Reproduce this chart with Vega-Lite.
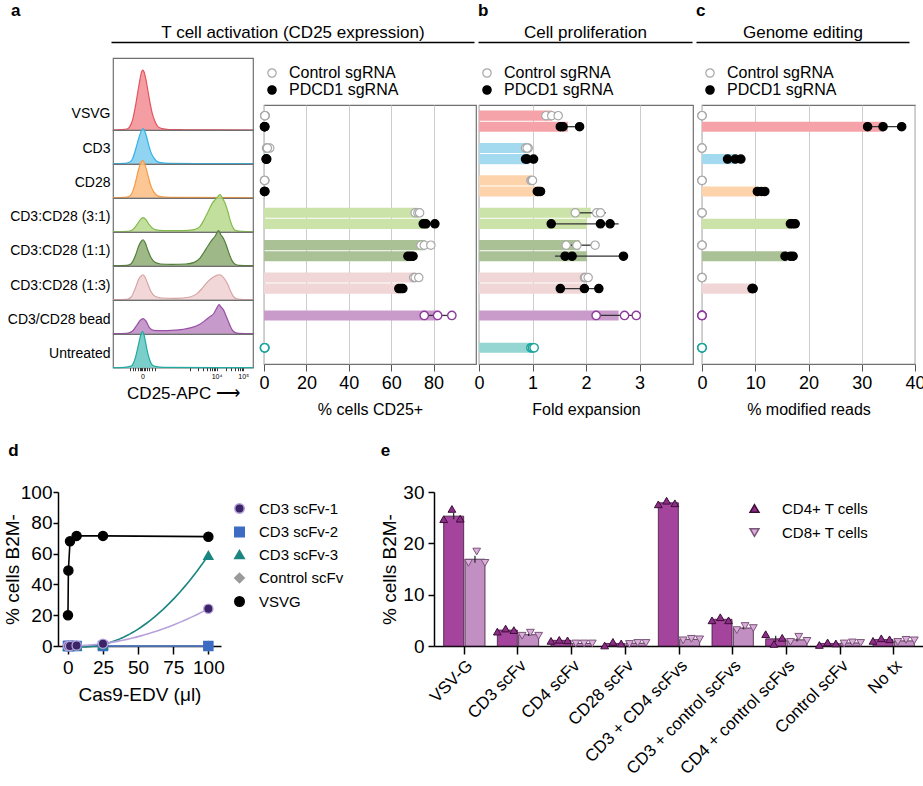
{
"$schema": "https://vega.github.io/schema/vega-lite/v6.json",
"padding": {"left": 3, "top": 2, "right": 2, "bottom": 2},
"config": {
  "font": "Liberation Sans",
  "view": {"stroke": null},
  "axis": {"labelColor": "#000", "titleColor": "#000", "labelFlush": false, "titleFontWeight": "normal", "domainColor": "#000", "tickColor": "#000"},
  "legend": {"labelColor": "#000"},
  "title": {"color": "#000"}
},
"datasets": {
  "hist": [
    {"cat":"VSVG","x":0,"dens":0},{"cat":"VSVG","x":6,"dens":0.01},{"cat":"VSVG","x":10,"dens":0.03},{"cat":"VSVG","x":12,"dens":0.1},{"cat":"VSVG","x":14,"dens":0.3},{"cat":"VSVG","x":16,"dens":0.7},{"cat":"VSVG","x":18,"dens":1.2},{"cat":"VSVG","x":19.5,"dens":1.55},{"cat":"VSVG","x":20.5,"dens":1.74},{"cat":"VSVG","x":21.3,"dens":1.78},{"cat":"VSVG","x":22.2,"dens":1.72},{"cat":"VSVG","x":23.5,"dens":1.5},{"cat":"VSVG","x":25,"dens":1.15},{"cat":"VSVG","x":26.5,"dens":0.8},{"cat":"VSVG","x":28,"dens":0.5},{"cat":"VSVG","x":30,"dens":0.25},{"cat":"VSVG","x":32,"dens":0.1},{"cat":"VSVG","x":35,"dens":0.04},{"cat":"VSVG","x":40,"dens":0.015},{"cat":"VSVG","x":50,"dens":0.008},{"cat":"VSVG","x":70,"dens":0.004},{"cat":"VSVG","x":100,"dens":0},
    {"cat":"CD3","x":0,"dens":0},{"cat":"CD3","x":8,"dens":0.01},{"cat":"CD3","x":12,"dens":0.05},{"cat":"CD3","x":14,"dens":0.15},{"cat":"CD3","x":16,"dens":0.4},{"cat":"CD3","x":18,"dens":0.7},{"cat":"CD3","x":19.5,"dens":0.9},{"cat":"CD3","x":20.5,"dens":1.0},{"cat":"CD3","x":21.5,"dens":1.04},{"cat":"CD3","x":22.5,"dens":0.98},{"cat":"CD3","x":24,"dens":0.8},{"cat":"CD3","x":25.5,"dens":0.55},{"cat":"CD3","x":27,"dens":0.35},{"cat":"CD3","x":29,"dens":0.18},{"cat":"CD3","x":31,"dens":0.08},{"cat":"CD3","x":34,"dens":0.03},{"cat":"CD3","x":40,"dens":0.01},{"cat":"CD3","x":60,"dens":0.005},{"cat":"CD3","x":100,"dens":0},
    {"cat":"CD28","x":0,"dens":0},{"cat":"CD28","x":8,"dens":0.01},{"cat":"CD28","x":12,"dens":0.05},{"cat":"CD28","x":14,"dens":0.18},{"cat":"CD28","x":16,"dens":0.45},{"cat":"CD28","x":18,"dens":0.8},{"cat":"CD28","x":19.5,"dens":1.0},{"cat":"CD28","x":20.5,"dens":1.08},{"cat":"CD28","x":21.5,"dens":1.1},{"cat":"CD28","x":22.5,"dens":1.02},{"cat":"CD28","x":24,"dens":0.82},{"cat":"CD28","x":25.5,"dens":0.58},{"cat":"CD28","x":27,"dens":0.36},{"cat":"CD28","x":29,"dens":0.18},{"cat":"CD28","x":31,"dens":0.08},{"cat":"CD28","x":34,"dens":0.03},{"cat":"CD28","x":40,"dens":0.01},{"cat":"CD28","x":100,"dens":0},
    {"cat":"CD3:CD28 (3:1)","x":0,"dens":0},{"cat":"CD3:CD28 (3:1)","x":10,"dens":0.01},{"cat":"CD3:CD28 (3:1)","x":14,"dens":0.06},{"cat":"CD3:CD28 (3:1)","x":17,"dens":0.2},{"cat":"CD3:CD28 (3:1)","x":19.5,"dens":0.36},{"cat":"CD3:CD28 (3:1)","x":21.5,"dens":0.42},{"cat":"CD3:CD28 (3:1)","x":23.5,"dens":0.36},{"cat":"CD3:CD28 (3:1)","x":26,"dens":0.2},{"cat":"CD3:CD28 (3:1)","x":29,"dens":0.08},{"cat":"CD3:CD28 (3:1)","x":33,"dens":0.04},{"cat":"CD3:CD28 (3:1)","x":40,"dens":0.03},{"cat":"CD3:CD28 (3:1)","x":50,"dens":0.03},{"cat":"CD3:CD28 (3:1)","x":58,"dens":0.06},{"cat":"CD3:CD28 (3:1)","x":62,"dens":0.15},{"cat":"CD3:CD28 (3:1)","x":65,"dens":0.35},{"cat":"CD3:CD28 (3:1)","x":68,"dens":0.6},{"cat":"CD3:CD28 (3:1)","x":71,"dens":0.85},{"cat":"CD3:CD28 (3:1)","x":73,"dens":0.95},{"cat":"CD3:CD28 (3:1)","x":75,"dens":1.05},{"cat":"CD3:CD28 (3:1)","x":76.5,"dens":1.1},{"cat":"CD3:CD28 (3:1)","x":78,"dens":1.0},{"cat":"CD3:CD28 (3:1)","x":80,"dens":0.85},{"cat":"CD3:CD28 (3:1)","x":82,"dens":0.6},{"cat":"CD3:CD28 (3:1)","x":84,"dens":0.3},{"cat":"CD3:CD28 (3:1)","x":86,"dens":0.1},{"cat":"CD3:CD28 (3:1)","x":88,"dens":0.03},{"cat":"CD3:CD28 (3:1)","x":92,"dens":0.01},{"cat":"CD3:CD28 (3:1)","x":100,"dens":0},
    {"cat":"CD3:CD28 (1:1)","x":0,"dens":0},{"cat":"CD3:CD28 (1:1)","x":10,"dens":0.01},{"cat":"CD3:CD28 (1:1)","x":13,"dens":0.06},{"cat":"CD3:CD28 (1:1)","x":16,"dens":0.3},{"cat":"CD3:CD28 (1:1)","x":18.5,"dens":0.6},{"cat":"CD3:CD28 (1:1)","x":20.5,"dens":0.74},{"cat":"CD3:CD28 (1:1)","x":21.5,"dens":0.77},{"cat":"CD3:CD28 (1:1)","x":23,"dens":0.68},{"cat":"CD3:CD28 (1:1)","x":25,"dens":0.45},{"cat":"CD3:CD28 (1:1)","x":27,"dens":0.25},{"cat":"CD3:CD28 (1:1)","x":30,"dens":0.1},{"cat":"CD3:CD28 (1:1)","x":34,"dens":0.05},{"cat":"CD3:CD28 (1:1)","x":42,"dens":0.04},{"cat":"CD3:CD28 (1:1)","x":52,"dens":0.05},{"cat":"CD3:CD28 (1:1)","x":58,"dens":0.1},{"cat":"CD3:CD28 (1:1)","x":62,"dens":0.22},{"cat":"CD3:CD28 (1:1)","x":65,"dens":0.4},{"cat":"CD3:CD28 (1:1)","x":68,"dens":0.6},{"cat":"CD3:CD28 (1:1)","x":71,"dens":0.78},{"cat":"CD3:CD28 (1:1)","x":73,"dens":0.88},{"cat":"CD3:CD28 (1:1)","x":74.5,"dens":1.0},{"cat":"CD3:CD28 (1:1)","x":75.5,"dens":1.04},{"cat":"CD3:CD28 (1:1)","x":77,"dens":0.92},{"cat":"CD3:CD28 (1:1)","x":79,"dens":0.8},{"cat":"CD3:CD28 (1:1)","x":81,"dens":0.6},{"cat":"CD3:CD28 (1:1)","x":83,"dens":0.35},{"cat":"CD3:CD28 (1:1)","x":85,"dens":0.15},{"cat":"CD3:CD28 (1:1)","x":87,"dens":0.05},{"cat":"CD3:CD28 (1:1)","x":90,"dens":0.01},{"cat":"CD3:CD28 (1:1)","x":100,"dens":0},
    {"cat":"CD3:CD28 (1:3)","x":0,"dens":0},{"cat":"CD3:CD28 (1:3)","x":10,"dens":0.01},{"cat":"CD3:CD28 (1:3)","x":13,"dens":0.08},{"cat":"CD3:CD28 (1:3)","x":16,"dens":0.35},{"cat":"CD3:CD28 (1:3)","x":18.5,"dens":0.62},{"cat":"CD3:CD28 (1:3)","x":20.5,"dens":0.72},{"cat":"CD3:CD28 (1:3)","x":21.5,"dens":0.74},{"cat":"CD3:CD28 (1:3)","x":23,"dens":0.66},{"cat":"CD3:CD28 (1:3)","x":25,"dens":0.45},{"cat":"CD3:CD28 (1:3)","x":27,"dens":0.25},{"cat":"CD3:CD28 (1:3)","x":30,"dens":0.1},{"cat":"CD3:CD28 (1:3)","x":35,"dens":0.05},{"cat":"CD3:CD28 (1:3)","x":45,"dens":0.04},{"cat":"CD3:CD28 (1:3)","x":55,"dens":0.08},{"cat":"CD3:CD28 (1:3)","x":60,"dens":0.18},{"cat":"CD3:CD28 (1:3)","x":64,"dens":0.35},{"cat":"CD3:CD28 (1:3)","x":68,"dens":0.55},{"cat":"CD3:CD28 (1:3)","x":71,"dens":0.65},{"cat":"CD3:CD28 (1:3)","x":74,"dens":0.72},{"cat":"CD3:CD28 (1:3)","x":76,"dens":0.74},{"cat":"CD3:CD28 (1:3)","x":78,"dens":0.7},{"cat":"CD3:CD28 (1:3)","x":80,"dens":0.6},{"cat":"CD3:CD28 (1:3)","x":82,"dens":0.45},{"cat":"CD3:CD28 (1:3)","x":84,"dens":0.25},{"cat":"CD3:CD28 (1:3)","x":86,"dens":0.1},{"cat":"CD3:CD28 (1:3)","x":89,"dens":0.02},{"cat":"CD3:CD28 (1:3)","x":100,"dens":0},
    {"cat":"CD3/CD28 bead","x":0,"dens":0},{"cat":"CD3/CD28 bead","x":10,"dens":0.01},{"cat":"CD3/CD28 bead","x":14,"dens":0.08},{"cat":"CD3/CD28 bead","x":17,"dens":0.25},{"cat":"CD3/CD28 bead","x":19.5,"dens":0.4},{"cat":"CD3/CD28 bead","x":21.5,"dens":0.45},{"cat":"CD3/CD28 bead","x":23.5,"dens":0.38},{"cat":"CD3/CD28 bead","x":26,"dens":0.18},{"cat":"CD3/CD28 bead","x":29,"dens":0.1},{"cat":"CD3/CD28 bead","x":35,"dens":0.09},{"cat":"CD3/CD28 bead","x":42,"dens":0.1},{"cat":"CD3/CD28 bead","x":50,"dens":0.13},{"cat":"CD3/CD28 bead","x":56,"dens":0.18},{"cat":"CD3/CD28 bead","x":62,"dens":0.28},{"cat":"CD3/CD28 bead","x":66,"dens":0.4},{"cat":"CD3/CD28 bead","x":69,"dens":0.5},{"cat":"CD3/CD28 bead","x":72,"dens":0.6},{"cat":"CD3/CD28 bead","x":74,"dens":0.75},{"cat":"CD3/CD28 bead","x":75.7,"dens":0.86},{"cat":"CD3/CD28 bead","x":77,"dens":0.8},{"cat":"CD3/CD28 bead","x":79,"dens":0.7},{"cat":"CD3/CD28 bead","x":81,"dens":0.5},{"cat":"CD3/CD28 bead","x":83,"dens":0.3},{"cat":"CD3/CD28 bead","x":85,"dens":0.12},{"cat":"CD3/CD28 bead","x":87,"dens":0.04},{"cat":"CD3/CD28 bead","x":90,"dens":0.01},{"cat":"CD3/CD28 bead","x":100,"dens":0},
    {"cat":"Untreated","x":0,"dens":0},{"cat":"Untreated","x":8,"dens":0.01},{"cat":"Untreated","x":13,"dens":0.05},{"cat":"Untreated","x":16,"dens":0.3},{"cat":"Untreated","x":18,"dens":0.65},{"cat":"Untreated","x":19.5,"dens":0.92},{"cat":"Untreated","x":20.5,"dens":1.05},{"cat":"Untreated","x":21.3,"dens":1.07},{"cat":"Untreated","x":22.3,"dens":0.95},{"cat":"Untreated","x":23.5,"dens":0.7},{"cat":"Untreated","x":25,"dens":0.4},{"cat":"Untreated","x":26.5,"dens":0.2},{"cat":"Untreated","x":28,"dens":0.08},{"cat":"Untreated","x":31,"dens":0.03},{"cat":"Untreated","x":36,"dens":0.01},{"cat":"Untreated","x":100,"dens":0}
  ],
  "bars": [
    {"panel":"a","cat":"VSVG","sg":"Control sgRNA","mean":0.4,"lo":0.3,"hi":0.6},
    {"panel":"a","cat":"VSVG","sg":"PDCD1 sgRNA","mean":0.3,"lo":0.2,"hi":0.4},
    {"panel":"a","cat":"CD3","sg":"Control sgRNA","mean":1.8,"lo":1.2,"hi":2.7},
    {"panel":"a","cat":"CD3","sg":"PDCD1 sgRNA","mean":1.1,"lo":1.0,"hi":1.3},
    {"panel":"a","cat":"CD28","sg":"Control sgRNA","mean":0.3,"lo":0.2,"hi":0.4},
    {"panel":"a","cat":"CD28","sg":"PDCD1 sgRNA","mean":0.3,"lo":0.2,"hi":0.4},
    {"panel":"a","cat":"CD3:CD28 (3:1)","sg":"Control sgRNA","mean":72.5,"lo":71.5,"hi":73.4},
    {"panel":"a","cat":"CD3:CD28 (3:1)","sg":"PDCD1 sgRNA","mean":77.4,"lo":75.3,"hi":80.6},
    {"panel":"a","cat":"CD3:CD28 (1:1)","sg":"Control sgRNA","mean":76.1,"lo":74.0,"hi":78.7},
    {"panel":"a","cat":"CD3:CD28 (1:1)","sg":"PDCD1 sgRNA","mean":69.2,"lo":68.0,"hi":70.3},
    {"panel":"a","cat":"CD3:CD28 (1:3)","sg":"Control sgRNA","mean":71.6,"lo":70.6,"hi":73.0},
    {"panel":"a","cat":"CD3:CD28 (1:3)","sg":"PDCD1 sgRNA","mean":64.6,"lo":63.6,"hi":65.5},
    {"panel":"a","cat":"CD3/CD28 bead","sg":"none","mean":82.0,"lo":75.6,"hi":88.6},
    {"panel":"a","cat":"Untreated","sg":"none","mean":0.3,"lo":0.2,"hi":0.4},
    {"panel":"b","cat":"VSVG","sg":"Control sgRNA","mean":1.36,"lo":1.25,"hi":1.48},
    {"panel":"b","cat":"VSVG","sg":"PDCD1 sgRNA","mean":1.66,"lo":1.52,"hi":1.88},
    {"panel":"b","cat":"CD3","sg":"Control sgRNA","mean":0.9,"lo":0.87,"hi":0.93},
    {"panel":"b","cat":"CD3","sg":"PDCD1 sgRNA","mean":0.93,"lo":0.87,"hi":1.02},
    {"panel":"b","cat":"CD28","sg":"Control sgRNA","mean":0.99,"lo":0.97,"hi":1.0},
    {"panel":"b","cat":"CD28","sg":"PDCD1 sgRNA","mean":1.12,"lo":1.09,"hi":1.15},
    {"panel":"b","cat":"CD3:CD28 (3:1)","sg":"Control sgRNA","mean":2.09,"lo":1.8,"hi":2.37},
    {"panel":"b","cat":"CD3:CD28 (3:1)","sg":"PDCD1 sgRNA","mean":2.02,"lo":1.43,"hi":2.61},
    {"panel":"b","cat":"CD3:CD28 (1:1)","sg":"Control sgRNA","mean":1.88,"lo":1.62,"hi":2.17},
    {"panel":"b","cat":"CD3:CD28 (1:1)","sg":"PDCD1 sgRNA","mean":2.02,"lo":1.42,"hi":2.62},
    {"panel":"b","cat":"CD3:CD28 (1:3)","sg":"Control sgRNA","mean":1.98,"lo":1.97,"hi":2.04},
    {"panel":"b","cat":"CD3:CD28 (1:3)","sg":"PDCD1 sgRNA","mean":1.91,"lo":1.52,"hi":2.24},
    {"panel":"b","cat":"CD3/CD28 bead","sg":"none","mean":2.61,"lo":2.2,"hi":2.95},
    {"panel":"b","cat":"Untreated","sg":"none","mean":0.99,"lo":0.97,"hi":1.03},
    {"panel":"c","cat":"VSVG","sg":"Control sgRNA","mean":0,"lo":0,"hi":0},
    {"panel":"c","cat":"VSVG","sg":"PDCD1 sgRNA","mean":34.0,"lo":31.1,"hi":37.5},
    {"panel":"c","cat":"CD3","sg":"Control sgRNA","mean":0,"lo":0,"hi":0},
    {"panel":"c","cat":"CD3","sg":"PDCD1 sgRNA","mean":5.9,"lo":4.8,"hi":7.3},
    {"panel":"c","cat":"CD28","sg":"Control sgRNA","mean":0,"lo":0,"hi":0},
    {"panel":"c","cat":"CD28","sg":"PDCD1 sgRNA","mean":10.7,"lo":10.4,"hi":11.8},
    {"panel":"c","cat":"CD3:CD28 (3:1)","sg":"Control sgRNA","mean":0,"lo":0,"hi":0},
    {"panel":"c","cat":"CD3:CD28 (3:1)","sg":"PDCD1 sgRNA","mean":16.9,"lo":16.6,"hi":17.5},
    {"panel":"c","cat":"CD3:CD28 (1:1)","sg":"Control sgRNA","mean":0,"lo":0,"hi":0},
    {"panel":"c","cat":"CD3:CD28 (1:1)","sg":"PDCD1 sgRNA","mean":16.0,"lo":15.6,"hi":17.1},
    {"panel":"c","cat":"CD3:CD28 (1:3)","sg":"Control sgRNA","mean":0,"lo":0,"hi":0},
    {"panel":"c","cat":"CD3:CD28 (1:3)","sg":"PDCD1 sgRNA","mean":9.2,"lo":9.4,"hi":9.6},
    {"panel":"c","cat":"CD3/CD28 bead","sg":"none","mean":0,"lo":0,"hi":0},
    {"panel":"c","cat":"Untreated","sg":"none","mean":0,"lo":0,"hi":0}
  ],
  "reps": [
    {"panel":"a","cat":"VSVG","sg":"Control sgRNA","v":0.3},{"panel":"a","cat":"VSVG","sg":"Control sgRNA","v":0.6},{"panel":"a","cat":"VSVG","sg":"Control sgRNA","v":0.4},
    {"panel":"a","cat":"VSVG","sg":"PDCD1 sgRNA","v":0.2},{"panel":"a","cat":"VSVG","sg":"PDCD1 sgRNA","v":0.4},{"panel":"a","cat":"VSVG","sg":"PDCD1 sgRNA","v":0.3},
    {"panel":"a","cat":"CD3","sg":"Control sgRNA","v":1.2},{"panel":"a","cat":"CD3","sg":"Control sgRNA","v":2.7},{"panel":"a","cat":"CD3","sg":"Control sgRNA","v":1.6},
    {"panel":"a","cat":"CD3","sg":"PDCD1 sgRNA","v":1.0},{"panel":"a","cat":"CD3","sg":"PDCD1 sgRNA","v":1.3},{"panel":"a","cat":"CD3","sg":"PDCD1 sgRNA","v":1.1},
    {"panel":"a","cat":"CD28","sg":"Control sgRNA","v":0.2},{"panel":"a","cat":"CD28","sg":"Control sgRNA","v":0.4},{"panel":"a","cat":"CD28","sg":"Control sgRNA","v":0.3},
    {"panel":"a","cat":"CD28","sg":"PDCD1 sgRNA","v":0.2},{"panel":"a","cat":"CD28","sg":"PDCD1 sgRNA","v":0.4},{"panel":"a","cat":"CD28","sg":"PDCD1 sgRNA","v":0.3},
    {"panel":"a","cat":"CD3:CD28 (3:1)","sg":"Control sgRNA","v":71.3},{"panel":"a","cat":"CD3:CD28 (3:1)","sg":"Control sgRNA","v":72.6},{"panel":"a","cat":"CD3:CD28 (3:1)","sg":"Control sgRNA","v":73.4},
    {"panel":"a","cat":"CD3:CD28 (3:1)","sg":"PDCD1 sgRNA","v":75.1},{"panel":"a","cat":"CD3:CD28 (3:1)","sg":"PDCD1 sgRNA","v":76.4},{"panel":"a","cat":"CD3:CD28 (3:1)","sg":"PDCD1 sgRNA","v":80.6},
    {"panel":"a","cat":"CD3:CD28 (1:1)","sg":"Control sgRNA","v":74.0},{"panel":"a","cat":"CD3:CD28 (1:1)","sg":"Control sgRNA","v":75.6},{"panel":"a","cat":"CD3:CD28 (1:1)","sg":"Control sgRNA","v":78.7},
    {"panel":"a","cat":"CD3:CD28 (1:1)","sg":"PDCD1 sgRNA","v":67.9},{"panel":"a","cat":"CD3:CD28 (1:1)","sg":"PDCD1 sgRNA","v":69.3},{"panel":"a","cat":"CD3:CD28 (1:1)","sg":"PDCD1 sgRNA","v":70.3},
    {"panel":"a","cat":"CD3:CD28 (1:3)","sg":"Control sgRNA","v":70.6},{"panel":"a","cat":"CD3:CD28 (1:3)","sg":"Control sgRNA","v":71.3},{"panel":"a","cat":"CD3:CD28 (1:3)","sg":"Control sgRNA","v":73.0},
    {"panel":"a","cat":"CD3:CD28 (1:3)","sg":"PDCD1 sgRNA","v":63.6},{"panel":"a","cat":"CD3:CD28 (1:3)","sg":"PDCD1 sgRNA","v":64.7},{"panel":"a","cat":"CD3:CD28 (1:3)","sg":"PDCD1 sgRNA","v":65.5},
    {"panel":"a","cat":"CD3/CD28 bead","sg":"none","v":75.6},{"panel":"a","cat":"CD3/CD28 bead","sg":"none","v":81.9},{"panel":"a","cat":"CD3/CD28 bead","sg":"none","v":88.6},
    {"panel":"a","cat":"Untreated","sg":"none","v":0.2},{"panel":"a","cat":"Untreated","sg":"none","v":0.4},{"panel":"a","cat":"Untreated","sg":"none","v":0.3},
    {"panel":"b","cat":"VSVG","sg":"Control sgRNA","v":1.25},{"panel":"b","cat":"VSVG","sg":"Control sgRNA","v":1.36},{"panel":"b","cat":"VSVG","sg":"Control sgRNA","v":1.48},
    {"panel":"b","cat":"VSVG","sg":"PDCD1 sgRNA","v":1.52},{"panel":"b","cat":"VSVG","sg":"PDCD1 sgRNA","v":1.57},{"panel":"b","cat":"VSVG","sg":"PDCD1 sgRNA","v":1.88},
    {"panel":"b","cat":"CD3","sg":"Control sgRNA","v":0.87},{"panel":"b","cat":"CD3","sg":"Control sgRNA","v":0.92},{"panel":"b","cat":"CD3","sg":"Control sgRNA","v":0.9},
    {"panel":"b","cat":"CD3","sg":"PDCD1 sgRNA","v":0.87},{"panel":"b","cat":"CD3","sg":"PDCD1 sgRNA","v":0.9},{"panel":"b","cat":"CD3","sg":"PDCD1 sgRNA","v":1.02},
    {"panel":"b","cat":"CD28","sg":"Control sgRNA","v":0.97},{"panel":"b","cat":"CD28","sg":"Control sgRNA","v":0.99},{"panel":"b","cat":"CD28","sg":"Control sgRNA","v":1.0},
    {"panel":"b","cat":"CD28","sg":"PDCD1 sgRNA","v":1.09},{"panel":"b","cat":"CD28","sg":"PDCD1 sgRNA","v":1.12},{"panel":"b","cat":"CD28","sg":"PDCD1 sgRNA","v":1.15},
    {"panel":"b","cat":"CD3:CD28 (3:1)","sg":"Control sgRNA","v":1.8},{"panel":"b","cat":"CD3:CD28 (3:1)","sg":"Control sgRNA","v":2.2},{"panel":"b","cat":"CD3:CD28 (3:1)","sg":"Control sgRNA","v":2.27},
    {"panel":"b","cat":"CD3:CD28 (3:1)","sg":"PDCD1 sgRNA","v":1.35},{"panel":"b","cat":"CD3:CD28 (3:1)","sg":"PDCD1 sgRNA","v":2.27},{"panel":"b","cat":"CD3:CD28 (3:1)","sg":"PDCD1 sgRNA","v":2.45},
    {"panel":"b","cat":"CD3:CD28 (1:1)","sg":"Control sgRNA","v":1.63},{"panel":"b","cat":"CD3:CD28 (1:1)","sg":"Control sgRNA","v":1.83},{"panel":"b","cat":"CD3:CD28 (1:1)","sg":"Control sgRNA","v":2.17},
    {"panel":"b","cat":"CD3:CD28 (1:1)","sg":"PDCD1 sgRNA","v":1.61},{"panel":"b","cat":"CD3:CD28 (1:1)","sg":"PDCD1 sgRNA","v":1.74},{"panel":"b","cat":"CD3:CD28 (1:1)","sg":"PDCD1 sgRNA","v":2.7},
    {"panel":"b","cat":"CD3:CD28 (1:3)","sg":"Control sgRNA","v":1.97},{"panel":"b","cat":"CD3:CD28 (1:3)","sg":"Control sgRNA","v":1.99},{"panel":"b","cat":"CD3:CD28 (1:3)","sg":"Control sgRNA","v":2.04},
    {"panel":"b","cat":"CD3:CD28 (1:3)","sg":"PDCD1 sgRNA","v":1.52},{"panel":"b","cat":"CD3:CD28 (1:3)","sg":"PDCD1 sgRNA","v":1.97},{"panel":"b","cat":"CD3:CD28 (1:3)","sg":"PDCD1 sgRNA","v":2.24},
    {"panel":"b","cat":"CD3/CD28 bead","sg":"none","v":2.19},{"panel":"b","cat":"CD3/CD28 bead","sg":"none","v":2.72},{"panel":"b","cat":"CD3/CD28 bead","sg":"none","v":2.94},
    {"panel":"b","cat":"Untreated","sg":"none","v":0.97},{"panel":"b","cat":"Untreated","sg":"none","v":1.0},{"panel":"b","cat":"Untreated","sg":"none","v":1.03},
    {"panel":"c","cat":"VSVG","sg":"Control sgRNA","v":0},{"panel":"c","cat":"VSVG","sg":"Control sgRNA","v":0},{"panel":"c","cat":"VSVG","sg":"Control sgRNA","v":0},
    {"panel":"c","cat":"VSVG","sg":"PDCD1 sgRNA","v":31.1},{"panel":"c","cat":"VSVG","sg":"PDCD1 sgRNA","v":34.0},{"panel":"c","cat":"VSVG","sg":"PDCD1 sgRNA","v":37.5},
    {"panel":"c","cat":"CD3","sg":"Control sgRNA","v":0},{"panel":"c","cat":"CD3","sg":"Control sgRNA","v":0},{"panel":"c","cat":"CD3","sg":"Control sgRNA","v":0},
    {"panel":"c","cat":"CD3","sg":"PDCD1 sgRNA","v":4.8},{"panel":"c","cat":"CD3","sg":"PDCD1 sgRNA","v":6.25},{"panel":"c","cat":"CD3","sg":"PDCD1 sgRNA","v":7.3},
    {"panel":"c","cat":"CD28","sg":"Control sgRNA","v":0},{"panel":"c","cat":"CD28","sg":"Control sgRNA","v":0},{"panel":"c","cat":"CD28","sg":"Control sgRNA","v":0},
    {"panel":"c","cat":"CD28","sg":"PDCD1 sgRNA","v":10.4},{"panel":"c","cat":"CD28","sg":"PDCD1 sgRNA","v":11.2},{"panel":"c","cat":"CD28","sg":"PDCD1 sgRNA","v":11.8},
    {"panel":"c","cat":"CD3:CD28 (3:1)","sg":"Control sgRNA","v":0},{"panel":"c","cat":"CD3:CD28 (3:1)","sg":"Control sgRNA","v":0},{"panel":"c","cat":"CD3:CD28 (3:1)","sg":"Control sgRNA","v":0},
    {"panel":"c","cat":"CD3:CD28 (3:1)","sg":"PDCD1 sgRNA","v":16.6},{"panel":"c","cat":"CD3:CD28 (3:1)","sg":"PDCD1 sgRNA","v":17.1},{"panel":"c","cat":"CD3:CD28 (3:1)","sg":"PDCD1 sgRNA","v":17.5},
    {"panel":"c","cat":"CD3:CD28 (1:1)","sg":"Control sgRNA","v":0},{"panel":"c","cat":"CD3:CD28 (1:1)","sg":"Control sgRNA","v":0},{"panel":"c","cat":"CD3:CD28 (1:1)","sg":"Control sgRNA","v":0},
    {"panel":"c","cat":"CD3:CD28 (1:1)","sg":"PDCD1 sgRNA","v":15.6},{"panel":"c","cat":"CD3:CD28 (1:1)","sg":"PDCD1 sgRNA","v":16.6},{"panel":"c","cat":"CD3:CD28 (1:1)","sg":"PDCD1 sgRNA","v":17.1},
    {"panel":"c","cat":"CD3:CD28 (1:3)","sg":"Control sgRNA","v":0},{"panel":"c","cat":"CD3:CD28 (1:3)","sg":"Control sgRNA","v":0},{"panel":"c","cat":"CD3:CD28 (1:3)","sg":"Control sgRNA","v":0},
    {"panel":"c","cat":"CD3:CD28 (1:3)","sg":"PDCD1 sgRNA","v":9.4},{"panel":"c","cat":"CD3:CD28 (1:3)","sg":"PDCD1 sgRNA","v":9.5},{"panel":"c","cat":"CD3:CD28 (1:3)","sg":"PDCD1 sgRNA","v":9.6},
    {"panel":"c","cat":"CD3/CD28 bead","sg":"none","v":0},{"panel":"c","cat":"CD3/CD28 bead","sg":"none","v":0},{"panel":"c","cat":"CD3/CD28 bead","sg":"none","v":0},
    {"panel":"c","cat":"Untreated","sg":"none","v":0},{"panel":"c","cat":"Untreated","sg":"none","v":0},{"panel":"c","cat":"Untreated","sg":"none","v":0}
  ],
  "dose": [
    {"series":"Control scFv","x":0.1,"y":0},{"series":"Control scFv","x":0.39,"y":0},{"series":"Control scFv","x":1.56,"y":0},{"series":"Control scFv","x":6.25,"y":0},{"series":"Control scFv","x":25,"y":0},{"series":"Control scFv","x":100,"y":0},
    {"series":"CD3 scFv-2","x":0.1,"y":0},{"series":"CD3 scFv-2","x":0.39,"y":0},{"series":"CD3 scFv-2","x":1.56,"y":0},{"series":"CD3 scFv-2","x":6.25,"y":0},{"series":"CD3 scFv-2","x":25,"y":0},{"series":"CD3 scFv-2","x":100,"y":0},
    {"series":"CD3 scFv-3","x":0.1,"y":0},{"series":"CD3 scFv-3","x":0.39,"y":0},{"series":"CD3 scFv-3","x":1.56,"y":0},{"series":"CD3 scFv-3","x":6.25,"y":0.1},{"series":"CD3 scFv-3","x":25,"y":0.8},{"series":"CD3 scFv-3","x":100,"y":58.9},
    {"series":"CD3 scFv-1","x":0.1,"y":0},{"series":"CD3 scFv-1","x":0.39,"y":0},{"series":"CD3 scFv-1","x":1.56,"y":0},{"series":"CD3 scFv-1","x":6.25,"y":0.3},{"series":"CD3 scFv-1","x":25,"y":1.5},{"series":"CD3 scFv-1","x":100,"y":24.2},
    {"series":"VSVG","x":0.1,"y":20},{"series":"VSVG","x":0.39,"y":49},{"series":"VSVG","x":1.56,"y":68},{"series":"VSVG","x":6.25,"y":71.5},{"series":"VSVG","x":25,"y":71.5},{"series":"VSVG","x":100,"y":71}
  ],
  "ebars": [
    {"grp":"VSV-G","cell":"CD4+ T cells","mean":25.3,"lo":24.7,"hi":25.9},{"grp":"VSV-G","cell":"CD8+ T cells","mean":16.9,"lo":16.2,"hi":17.6},
    {"grp":"CD3 scFv","cell":"CD4+ T cells","mean":3.1,"lo":2.85,"hi":3.35},{"grp":"CD3 scFv","cell":"CD8+ T cells","mean":2.2,"lo":1.95,"hi":2.45},
    {"grp":"CD4 scFv","cell":"CD4+ T cells","mean":1.1,"lo":1.0,"hi":1.2},{"grp":"CD4 scFv","cell":"CD8+ T cells","mean":0.5,"lo":0.45,"hi":0.55},
    {"grp":"CD28 scFv","cell":"CD4+ T cells","mean":0.5,"lo":0.3,"hi":0.7},{"grp":"CD28 scFv","cell":"CD8+ T cells","mean":0.55,"lo":0.45,"hi":0.65},
    {"grp":"CD3 + CD4 scFvs","cell":"CD4+ T cells","mean":27.9,"lo":27.7,"hi":28.1},{"grp":"CD3 + CD4 scFvs","cell":"CD8+ T cells","mean":1.3,"lo":1.2,"hi":1.4},
    {"grp":"CD3 + control scFvs","cell":"CD4+ T cells","mean":5.2,"lo":5.0,"hi":5.4},{"grp":"CD3 + control scFvs","cell":"CD8+ T cells","mean":3.5,"lo":3.25,"hi":3.75},
    {"grp":"CD4 + control scFvs","cell":"CD4+ T cells","mean":1.4,"lo":0.8,"hi":2.0},{"grp":"CD4 + control scFvs","cell":"CD8+ T cells","mean":1.2,"lo":0.9,"hi":1.5},
    {"grp":"Control scFv","cell":"CD4+ T cells","mean":0.5,"lo":0.35,"hi":0.65},{"grp":"Control scFv","cell":"CD8+ T cells","mean":0.6,"lo":0.5,"hi":0.7},
    {"grp":"No tx","cell":"CD4+ T cells","mean":1.25,"lo":1.1,"hi":1.4},{"grp":"No tx","cell":"CD8+ T cells","mean":1.0,"lo":0.9,"hi":1.1}
  ],
  "ereps": [
    {"grp":"VSV-G","cell":"CD4+ T cells","sub":"CD4 1","v":24.7},{"grp":"VSV-G","cell":"CD4+ T cells","sub":"CD4 2","v":26.7},{"grp":"VSV-G","cell":"CD4+ T cells","sub":"CD4 3","v":24.8},
    {"grp":"VSV-G","cell":"CD8+ T cells","sub":"CD8 1","v":16.2},{"grp":"VSV-G","cell":"CD8+ T cells","sub":"CD8 2","v":18.4},{"grp":"VSV-G","cell":"CD8+ T cells","sub":"CD8 3","v":16.2},
    {"grp":"CD3 scFv","cell":"CD4+ T cells","sub":"CD4 1","v":2.8},{"grp":"CD3 scFv","cell":"CD4+ T cells","sub":"CD4 2","v":3.4},{"grp":"CD3 scFv","cell":"CD4+ T cells","sub":"CD4 3","v":3.1},
    {"grp":"CD3 scFv","cell":"CD8+ T cells","sub":"CD8 1","v":2.0},{"grp":"CD3 scFv","cell":"CD8+ T cells","sub":"CD8 2","v":2.6},{"grp":"CD3 scFv","cell":"CD8+ T cells","sub":"CD8 3","v":2.0},
    {"grp":"CD4 scFv","cell":"CD4+ T cells","sub":"CD4 1","v":1.0},{"grp":"CD4 scFv","cell":"CD4+ T cells","sub":"CD4 2","v":1.2},{"grp":"CD4 scFv","cell":"CD4+ T cells","sub":"CD4 3","v":1.1},
    {"grp":"CD4 scFv","cell":"CD8+ T cells","sub":"CD8 1","v":0.5},{"grp":"CD4 scFv","cell":"CD8+ T cells","sub":"CD8 2","v":0.5},{"grp":"CD4 scFv","cell":"CD8+ T cells","sub":"CD8 3","v":0.5},
    {"grp":"CD28 scFv","cell":"CD4+ T cells","sub":"CD4 1","v":0.1},{"grp":"CD28 scFv","cell":"CD4+ T cells","sub":"CD4 2","v":0.8},{"grp":"CD28 scFv","cell":"CD4+ T cells","sub":"CD4 3","v":0.5},
    {"grp":"CD28 scFv","cell":"CD8+ T cells","sub":"CD8 1","v":0.4},{"grp":"CD28 scFv","cell":"CD8+ T cells","sub":"CD8 2","v":0.6},{"grp":"CD28 scFv","cell":"CD8+ T cells","sub":"CD8 3","v":0.6},
    {"grp":"CD3 + CD4 scFvs","cell":"CD4+ T cells","sub":"CD4 1","v":27.6},{"grp":"CD3 + CD4 scFvs","cell":"CD4+ T cells","sub":"CD4 2","v":28.3},{"grp":"CD3 + CD4 scFvs","cell":"CD4+ T cells","sub":"CD4 3","v":27.8},
    {"grp":"CD3 + CD4 scFvs","cell":"CD8+ T cells","sub":"CD8 1","v":1.1},{"grp":"CD3 + CD4 scFvs","cell":"CD8+ T cells","sub":"CD8 2","v":1.4},{"grp":"CD3 + CD4 scFvs","cell":"CD8+ T cells","sub":"CD8 3","v":1.3},
    {"grp":"CD3 + control scFvs","cell":"CD4+ T cells","sub":"CD4 1","v":5.0},{"grp":"CD3 + control scFvs","cell":"CD4+ T cells","sub":"CD4 2","v":5.6},{"grp":"CD3 + control scFvs","cell":"CD4+ T cells","sub":"CD4 3","v":5.0},
    {"grp":"CD3 + control scFvs","cell":"CD8+ T cells","sub":"CD8 1","v":3.1},{"grp":"CD3 + control scFvs","cell":"CD8+ T cells","sub":"CD8 2","v":3.9},{"grp":"CD3 + control scFvs","cell":"CD8+ T cells","sub":"CD8 3","v":3.5},
    {"grp":"CD4 + control scFvs","cell":"CD4+ T cells","sub":"CD4 1","v":2.3},{"grp":"CD4 + control scFvs","cell":"CD4+ T cells","sub":"CD4 2","v":0.4},{"grp":"CD4 + control scFvs","cell":"CD4+ T cells","sub":"CD4 3","v":1.6},
    {"grp":"CD4 + control scFvs","cell":"CD8+ T cells","sub":"CD8 1","v":0.8},{"grp":"CD4 + control scFvs","cell":"CD8+ T cells","sub":"CD8 2","v":1.8},{"grp":"CD4 + control scFvs","cell":"CD8+ T cells","sub":"CD8 3","v":1.0},
    {"grp":"Control scFv","cell":"CD4+ T cells","sub":"CD4 1","v":0.2},{"grp":"Control scFv","cell":"CD4+ T cells","sub":"CD4 2","v":0.7},{"grp":"Control scFv","cell":"CD4+ T cells","sub":"CD4 3","v":0.5},
    {"grp":"Control scFv","cell":"CD8+ T cells","sub":"CD8 1","v":0.5},{"grp":"Control scFv","cell":"CD8+ T cells","sub":"CD8 2","v":0.7},{"grp":"Control scFv","cell":"CD8+ T cells","sub":"CD8 3","v":0.6},
    {"grp":"No tx","cell":"CD4+ T cells","sub":"CD4 1","v":1.0},{"grp":"No tx","cell":"CD4+ T cells","sub":"CD4 2","v":1.5},{"grp":"No tx","cell":"CD4+ T cells","sub":"CD4 3","v":1.3},
    {"grp":"No tx","cell":"CD8+ T cells","sub":"CD8 1","v":0.8},{"grp":"No tx","cell":"CD8+ T cells","sub":"CD8 2","v":1.2},{"grp":"No tx","cell":"CD8+ T cells","sub":"CD8 3","v":1.1}
  ]
},
"vconcat": [
  {
    "vconcat": [
      {
        "hconcat": [
          {
            "width": 49, "height": 1,
            "data": {"values": [{"v": 0}]},
            "mark": {"type": "point", "opacity": 0},
            "encoding": {"x": {"field": "v", "type": "quantitative", "axis": {"orient": "top", "domain": false, "ticks": false, "labels": false, "grid": false, "title": "\u00a0", "titleFontSize": 17, "titlePadding": 1}}},
            "title": {"text": "a", "anchor": "start", "dx": -47, "fontSize": 17, "fontWeight": "bold", "baseline": "alphabetic", "offset": -10}
          },
          {
            "width": 363, "height": 1,
            "data": {"values": [{"v": 0}]},
            "mark": {"type": "point", "opacity": 0},
            "encoding": {"x": {"field": "v", "type": "quantitative", "axis": {"orient": "top", "domain": true, "domainWidth": 1.3, "ticks": false, "labels": false, "grid": false, "title": "T cell activation (CD25 expression)", "titleFontSize": 17, "titlePadding": 1}}}
          },
          {
            "width": 214, "height": 1,
            "data": {"values": [{"v": 0}]},
            "mark": {"type": "point", "opacity": 0},
            "encoding": {"x": {"field": "v", "type": "quantitative", "axis": {"orient": "top", "domain": true, "domainWidth": 1.3, "ticks": false, "labels": false, "grid": false, "title": "Cell proliferation", "titleFontSize": 17, "titlePadding": 1}}},
            "title": {"text": "b", "anchor": "start", "fontSize": 17, "fontWeight": "bold", "baseline": "alphabetic", "offset": -10}
          },
          {
            "width": 213, "height": 1,
            "data": {"values": [{"v": 0}]},
            "mark": {"type": "point", "opacity": 0},
            "encoding": {"x": {"field": "v", "type": "quantitative", "axis": {"orient": "top", "domain": true, "domainWidth": 1.3, "ticks": false, "labels": false, "grid": false, "title": "Genome editing", "titleFontSize": 17, "titlePadding": 1}}},
            "title": {"text": "c", "anchor": "start", "fontSize": 17, "fontWeight": "bold", "baseline": "alphabetic", "offset": -10}
          }
        ],
        "spacing": 4
      },
      {
        "hconcat": [
          {
            "width": 50, "height": 308,
            "data": {"values": [{"cat":"VSVG"},{"cat":"CD3"},{"cat":"CD28"},{"cat":"CD3:CD28 (3:1)"},{"cat":"CD3:CD28 (1:1)"},{"cat":"CD3:CD28 (1:3)"},{"cat":"CD3/CD28 bead"},{"cat":"Untreated"}]},
            "mark": {"type": "text", "text": ""},
            "encoding": {"y": {"field": "cat", "type": "nominal", "scale": {"type": "point", "domain": ["VSVG","CD3","CD28","CD3:CD28 (3:1)","CD3:CD28 (1:1)","CD3:CD28 (1:3)","CD3/CD28 bead","Untreated"], "padding": 1.07, "align": 0.818}, "axis": {"orient": "right", "title": null, "labelAlign": "right", "labelBaseline": "middle", "labelPadding": 2, "ticks": false, "tickSize": 0, "domain": false, "grid": false, "labelFontSize": 14}}}
          },
          {
            "hconcat": [
              {
                "vconcat": [
                  {"width": 140, "height": 72, "view": {"stroke": "#707070", "strokeWidth": 1.2}, "data": {"name": "hist"}, "transform": [{"filter": {"field": "cat", "equal": "VSVG"}}],
                   "mark": {"type": "area", "color": "#f28c92", "fillOpacity": 0.85, "line": {"color": "#e4545d", "strokeWidth": 1.2}, "interpolate": "monotone"},
                   "encoding": {"x": {"field": "x", "type": "quantitative", "scale": {"domain": [0, 100], "nice": false, "zero": false}, "axis": null},
                                "y": {"field": "dens", "type": "quantitative", "scale": {"domain": [0, 2.137], "nice": false}, "axis": null}}},
                  {"width": 140, "height": 33.7, "view": {"stroke": "#707070", "strokeWidth": 1.2}, "data": {"name": "hist"}, "transform": [{"filter": {"field": "cat", "equal": "CD3"}}],
                   "mark": {"type": "area", "color": "#7dcdef", "fillOpacity": 0.85, "line": {"color": "#33b2e5", "strokeWidth": 1.2}, "interpolate": "monotone"},
                   "encoding": {"x": {"field": "x", "type": "quantitative", "scale": {"domain": [0, 100], "nice": false, "zero": false}, "axis": null},
                                "y": {"field": "dens", "type": "quantitative", "scale": {"domain": [0, 1], "nice": false}, "axis": null}}},
                  {"width": 140, "height": 33.7, "view": {"stroke": "#707070", "strokeWidth": 1.2}, "data": {"name": "hist"}, "transform": [{"filter": {"field": "cat", "equal": "CD28"}}],
                   "mark": {"type": "area", "color": "#fbbd82", "fillOpacity": 0.85, "line": {"color": "#f49b45", "strokeWidth": 1.2}, "interpolate": "monotone"},
                   "encoding": {"x": {"field": "x", "type": "quantitative", "scale": {"domain": [0, 100], "nice": false, "zero": false}, "axis": null},
                                "y": {"field": "dens", "type": "quantitative", "scale": {"domain": [0, 1], "nice": false}, "axis": null}}},
                  {"width": 140, "height": 33.7, "view": {"stroke": "#707070", "strokeWidth": 1.2}, "data": {"name": "hist"}, "transform": [{"filter": {"field": "cat", "equal": "CD3:CD28 (3:1)"}}],
                   "mark": {"type": "area", "color": "#b8d98d", "fillOpacity": 0.85, "line": {"color": "#84ba4c", "strokeWidth": 1.2}, "interpolate": "monotone"},
                   "encoding": {"x": {"field": "x", "type": "quantitative", "scale": {"domain": [0, 100], "nice": false, "zero": false}, "axis": null},
                                "y": {"field": "dens", "type": "quantitative", "scale": {"domain": [0, 1], "nice": false}, "axis": null}}},
                  {"width": 140, "height": 33.7, "view": {"stroke": "#707070", "strokeWidth": 1.2}, "data": {"name": "hist"}, "transform": [{"filter": {"field": "cat", "equal": "CD3:CD28 (1:1)"}}],
                   "mark": {"type": "area", "color": "#8dab72", "fillOpacity": 0.85, "line": {"color": "#52803a", "strokeWidth": 1.2}, "interpolate": "monotone"},
                   "encoding": {"x": {"field": "x", "type": "quantitative", "scale": {"domain": [0, 100], "nice": false, "zero": false}, "axis": null},
                                "y": {"field": "dens", "type": "quantitative", "scale": {"domain": [0, 1], "nice": false}, "axis": null}}},
                  {"width": 140, "height": 33.7, "view": {"stroke": "#707070", "strokeWidth": 1.2}, "data": {"name": "hist"}, "transform": [{"filter": {"field": "cat", "equal": "CD3:CD28 (1:3)"}}],
                   "mark": {"type": "area", "color": "#eed0d0", "fillOpacity": 0.85, "line": {"color": "#d6a4a4", "strokeWidth": 1.2}, "interpolate": "monotone"},
                   "encoding": {"x": {"field": "x", "type": "quantitative", "scale": {"domain": [0, 100], "nice": false, "zero": false}, "axis": null},
                                "y": {"field": "dens", "type": "quantitative", "scale": {"domain": [0, 1], "nice": false}, "axis": null}}},
                  {"width": 140, "height": 33.7, "view": {"stroke": "#707070", "strokeWidth": 1.2}, "data": {"name": "hist"}, "transform": [{"filter": {"field": "cat", "equal": "CD3/CD28 bead"}}],
                   "mark": {"type": "area", "color": "#bd88c3", "fillOpacity": 0.85, "line": {"color": "#974fa6", "strokeWidth": 1.2}, "interpolate": "monotone"},
                   "encoding": {"x": {"field": "x", "type": "quantitative", "scale": {"domain": [0, 100], "nice": false, "zero": false}, "axis": null},
                                "y": {"field": "dens", "type": "quantitative", "scale": {"domain": [0, 1], "nice": false}, "axis": null}}},
                  {"width": 140, "height": 33.7, "view": {"stroke": "#707070", "strokeWidth": 1.2}, "data": {"name": "hist"}, "transform": [{"filter": {"field": "cat", "equal": "Untreated"}}],
                   "mark": {"type": "area", "color": "#63c7c1", "fillOpacity": 0.85, "line": {"color": "#22a9a1", "strokeWidth": 1.2}, "interpolate": "monotone"},
                   "encoding": {"x": {"field": "x", "type": "quantitative", "scale": {"domain": [0, 100], "nice": false, "zero": false},
                                      "axis": {"values": [12, 14, 16, 17.5, 19, 20, 21, 22, 23, 24.5, 26, 28, 30, 55, 61, 64.5, 67, 69, 70.5, 71.8, 73, 74, 81, 84.5, 87, 89, 90.5, 91.8, 93], "labelExpr": "datum.value == 21 ? '0' : datum.value == 74 ? '10\u2074' : datum.value == 93 ? '10\u2075' : ''", "labelFontSize": 7, "labelOverlap": false, "tickSize": 3, "tickWidth": 0.8, "domain": false, "grid": false, "labelPadding": 2, "title": "CD25-APC \u27f6", "titleFontSize": 17, "titlePadding": 6}},
                                "y": {"field": "dens", "type": "quantitative", "scale": {"domain": [0, 1], "nice": false}, "axis": null}}}
                ],
                "spacing": 0,
                "bounds": "flush"
              },
              {
                "vconcat": [
                  {"width": 1, "height": 1, "data": {"values": [{"v": 0}]}, "mark": {"type": "text", "text": ""}, "encoding": {}},
                  {
                    "hconcat": [
                      {
                        "hconcat": [
                          {
                            "width": 212, "height": 259,
                            "view": {"stroke": "#707070", "strokeWidth": 1.2},
                            "layer": [
                              {"data": {"name": "bars"}, "transform": [{"filter": "datum.panel === 'a' && datum.sg !== 'none'"}],
                               "mark": {"type": "bar"},
                               "encoding": {
                                 "x": {"field": "mean", "type": "quantitative", "scale": {"domain": [0, 100], "nice": false}, "axis": {"values": [0, 20, 40, 60, 80], "grid": true, "gridColor": "#cccccc", "tickSize": 7, "tickColor": "#555", "domain": false, "labelFontSize": 18, "labelPadding": 3, "title": "% cells CD25+", "titleFontSize": 16, "titlePadding": 9}},
                                 "y": {"field": "cat", "type": "nominal", "scale": {"domain": ["VSVG","CD3","CD28","CD3:CD28 (3:1)","CD3:CD28 (1:1)","CD3:CD28 (1:3)","CD3/CD28 bead","Untreated"], "paddingInner": 0, "paddingOuter": 0}, "axis": null},
                                 "yOffset": {"field": "sg", "type": "nominal", "scale": {"domain": ["Control sgRNA", "PDCD1 sgRNA"], "paddingInner": 0.08, "paddingOuter": 0.51}},
                                 "color": {"field": "cat", "type": "nominal", "scale": {"domain": ["VSVG","CD3","CD28","CD3:CD28 (3:1)","CD3:CD28 (1:1)","CD3:CD28 (1:3)","CD3/CD28 bead","Untreated"], "range": ["#f5a3a8","#a3daf0","#fdd3ab","#cbe3a9","#a9c194","#f0d6d6","#c99bcb","#95d6d2"]}, "legend": null}
                               }},
                              {"data": {"name": "bars"}, "transform": [{"filter": "datum.panel === 'a' && datum.sg === 'none'"}],
                               "mark": {"type": "bar", "height": {"band": 0.31}},
                               "encoding": {
                                 "x": {"field": "mean", "type": "quantitative", "scale": {"domain": [0, 100], "nice": false}, "axis": {"values": [0, 20, 40, 60, 80], "grid": true, "gridColor": "#cccccc", "tickSize": 7, "tickColor": "#555", "domain": false, "labelFontSize": 18, "labelPadding": 3, "title": "% cells CD25+", "titleFontSize": 16, "titlePadding": 9}},
                                 "y": {"field": "cat", "type": "nominal", "scale": {"domain": ["VSVG","CD3","CD28","CD3:CD28 (3:1)","CD3:CD28 (1:1)","CD3:CD28 (1:3)","CD3/CD28 bead","Untreated"], "paddingInner": 0, "paddingOuter": 0}, "axis": null},
                                 "color": {"field": "cat", "type": "nominal", "scale": {"domain": ["VSVG","CD3","CD28","CD3:CD28 (3:1)","CD3:CD28 (1:1)","CD3:CD28 (1:3)","CD3/CD28 bead","Untreated"], "range": ["#f5a3a8","#a3daf0","#fdd3ab","#cbe3a9","#a9c194","#f0d6d6","#c99bcb","#95d6d2"]}, "legend": null}
                               }},
                              {"data": {"name": "bars"}, "transform": [{"filter": "datum.panel === 'a' && datum.sg !== 'none'"}],
                               "mark": {"type": "rule", "color": "#333", "strokeWidth": 1.3},
                               "encoding": {
                                 "x": {"field": "lo", "type": "quantitative", "scale": {"domain": [0, 100], "nice": false}, "axis": {"values": [0, 20, 40, 60, 80], "grid": true, "gridColor": "#cccccc", "tickSize": 7, "tickColor": "#555", "domain": false, "labelFontSize": 18, "labelPadding": 3, "title": "% cells CD25+", "titleFontSize": 16, "titlePadding": 9}}, "x2": {"field": "hi"},
                                 "y": {"field": "cat", "type": "nominal", "scale": {"domain": ["VSVG","CD3","CD28","CD3:CD28 (3:1)","CD3:CD28 (1:1)","CD3:CD28 (1:3)","CD3/CD28 bead","Untreated"], "paddingInner": 0, "paddingOuter": 0}, "axis": null},
                                 "yOffset": {"field": "sg", "type": "nominal", "scale": {"domain": ["Control sgRNA", "PDCD1 sgRNA"], "paddingInner": 0.08, "paddingOuter": 0.51}}
                               }},
                              {"data": {"name": "bars"}, "transform": [{"filter": "datum.panel === 'a' && datum.sg === 'none'"}],
                               "mark": {"type": "rule", "color": "#333", "strokeWidth": 1.3},
                               "encoding": {
                                 "x": {"field": "lo", "type": "quantitative", "scale": {"domain": [0, 100], "nice": false}, "axis": {"values": [0, 20, 40, 60, 80], "grid": true, "gridColor": "#cccccc", "tickSize": 7, "tickColor": "#555", "domain": false, "labelFontSize": 18, "labelPadding": 3, "title": "% cells CD25+", "titleFontSize": 16, "titlePadding": 9}}, "x2": {"field": "hi"},
                                 "y": {"field": "cat", "type": "nominal", "scale": {"domain": ["VSVG","CD3","CD28","CD3:CD28 (3:1)","CD3:CD28 (1:1)","CD3:CD28 (1:3)","CD3/CD28 bead","Untreated"], "paddingInner": 0, "paddingOuter": 0}, "axis": null}
                               }},
                              {"data": {"name": "reps"}, "transform": [{"filter": "datum.panel === 'a' && datum.sg !== 'none'"}],
                               "mark": {"type": "point", "filled": true, "size": 70, "strokeWidth": 1.2, "opacity": 1},
                               "encoding": {
                                 "x": {"field": "v", "type": "quantitative", "scale": {"domain": [0, 100], "nice": false}, "axis": {"values": [0, 20, 40, 60, 80], "grid": true, "gridColor": "#cccccc", "tickSize": 7, "tickColor": "#555", "domain": false, "labelFontSize": 18, "labelPadding": 3, "title": "% cells CD25+", "titleFontSize": 16, "titlePadding": 9}},
                                 "y": {"field": "cat", "type": "nominal", "scale": {"domain": ["VSVG","CD3","CD28","CD3:CD28 (3:1)","CD3:CD28 (1:1)","CD3:CD28 (1:3)","CD3/CD28 bead","Untreated"], "paddingInner": 0, "paddingOuter": 0}, "axis": null},
                                 "yOffset": {"field": "sg", "type": "nominal", "scale": {"domain": ["Control sgRNA", "PDCD1 sgRNA"], "paddingInner": 0.08, "paddingOuter": 0.51}},
                                 "fill": {"field": "sg", "type": "nominal", "scale": {"domain": ["Control sgRNA", "PDCD1 sgRNA"], "range": ["#ffffff", "#000000"]}, "legend": {"title": null, "orient": "top", "direction": "vertical", "padding": 0, "offset": 7, "labelFontSize": 16, "symbolSize": 70, "symbolStrokeWidth": 1.2, "rowPadding": 1, "labelOffset": 9}},
                                 "stroke": {"field": "sg", "type": "nominal", "scale": {"domain": ["Control sgRNA", "PDCD1 sgRNA"], "range": ["#a8a8a8", "#000000"]}, "legend": {"title": null, "orient": "top", "direction": "vertical", "padding": 0, "offset": 7, "labelFontSize": 16, "symbolSize": 70, "symbolStrokeWidth": 1.2, "rowPadding": 1, "labelOffset": 9}}
                               }},
                              {"data": {"name": "reps"}, "transform": [{"filter": "datum.panel === 'a' && datum.sg === 'none'"}],
                               "mark": {"type": "point", "filled": true, "size": 70, "strokeWidth": 1.4, "opacity": 1, "fill": "#ffffff"},
                               "encoding": {
                                 "x": {"field": "v", "type": "quantitative", "scale": {"domain": [0, 100], "nice": false}, "axis": {"values": [0, 20, 40, 60, 80], "grid": true, "gridColor": "#cccccc", "tickSize": 7, "tickColor": "#555", "domain": false, "labelFontSize": 18, "labelPadding": 3, "title": "% cells CD25+", "titleFontSize": 16, "titlePadding": 9}},
                                 "y": {"field": "cat", "type": "nominal", "scale": {"domain": ["VSVG","CD3","CD28","CD3:CD28 (3:1)","CD3:CD28 (1:1)","CD3:CD28 (1:3)","CD3/CD28 bead","Untreated"], "paddingInner": 0, "paddingOuter": 0}, "axis": null},
                                 "stroke": {"condition": {"test": "datum.cat === 'Untreated'", "value": "#1aa39c"}, "value": "#8e3b9d"}
                               }}
                            ]
                          },
                          {
                            "width": 214, "height": 259,
                            "view": {"stroke": "#707070", "strokeWidth": 1.2},
                            "layer": [
                              {"data": {"name": "bars"}, "transform": [{"filter": "datum.panel === 'b' && datum.sg !== 'none'"}],
                               "mark": {"type": "bar"},
                               "encoding": {
                                 "x": {"field": "mean", "type": "quantitative", "scale": {"domain": [0, 4], "nice": false}, "axis": {"values": [0, 1, 2, 3], "format": "d", "grid": true, "gridColor": "#cccccc", "tickSize": 7, "tickColor": "#555", "domain": false, "labelFontSize": 18, "labelPadding": 3, "title": "Fold expansion", "titleFontSize": 16, "titlePadding": 9}},
                                 "y": {"field": "cat", "type": "nominal", "scale": {"domain": ["VSVG","CD3","CD28","CD3:CD28 (3:1)","CD3:CD28 (1:1)","CD3:CD28 (1:3)","CD3/CD28 bead","Untreated"], "paddingInner": 0, "paddingOuter": 0}, "axis": null},
                                 "yOffset": {"field": "sg", "type": "nominal", "scale": {"domain": ["Control sgRNA", "PDCD1 sgRNA"], "paddingInner": 0.08, "paddingOuter": 0.51}},
                                 "color": {"field": "cat", "type": "nominal", "scale": {"domain": ["VSVG","CD3","CD28","CD3:CD28 (3:1)","CD3:CD28 (1:1)","CD3:CD28 (1:3)","CD3/CD28 bead","Untreated"], "range": ["#f5a3a8","#a3daf0","#fdd3ab","#cbe3a9","#a9c194","#f0d6d6","#c99bcb","#95d6d2"]}, "legend": null}
                               }},
                              {"data": {"name": "bars"}, "transform": [{"filter": "datum.panel === 'b' && datum.sg === 'none'"}],
                               "mark": {"type": "bar", "height": {"band": 0.31}},
                               "encoding": {
                                 "x": {"field": "mean", "type": "quantitative", "scale": {"domain": [0, 4], "nice": false}, "axis": {"values": [0, 1, 2, 3], "format": "d", "grid": true, "gridColor": "#cccccc", "tickSize": 7, "tickColor": "#555", "domain": false, "labelFontSize": 18, "labelPadding": 3, "title": "Fold expansion", "titleFontSize": 16, "titlePadding": 9}},
                                 "y": {"field": "cat", "type": "nominal", "scale": {"domain": ["VSVG","CD3","CD28","CD3:CD28 (3:1)","CD3:CD28 (1:1)","CD3:CD28 (1:3)","CD3/CD28 bead","Untreated"], "paddingInner": 0, "paddingOuter": 0}, "axis": null},
                                 "color": {"field": "cat", "type": "nominal", "scale": {"domain": ["VSVG","CD3","CD28","CD3:CD28 (3:1)","CD3:CD28 (1:1)","CD3:CD28 (1:3)","CD3/CD28 bead","Untreated"], "range": ["#f5a3a8","#a3daf0","#fdd3ab","#cbe3a9","#a9c194","#f0d6d6","#c99bcb","#95d6d2"]}, "legend": null}
                               }},
                              {"data": {"name": "bars"}, "transform": [{"filter": "datum.panel === 'b' && datum.sg !== 'none'"}],
                               "mark": {"type": "rule", "color": "#333", "strokeWidth": 1.3},
                               "encoding": {
                                 "x": {"field": "lo", "type": "quantitative", "scale": {"domain": [0, 4], "nice": false}, "axis": {"values": [0, 1, 2, 3], "format": "d", "grid": true, "gridColor": "#cccccc", "tickSize": 7, "tickColor": "#555", "domain": false, "labelFontSize": 18, "labelPadding": 3, "title": "Fold expansion", "titleFontSize": 16, "titlePadding": 9}}, "x2": {"field": "hi"},
                                 "y": {"field": "cat", "type": "nominal", "scale": {"domain": ["VSVG","CD3","CD28","CD3:CD28 (3:1)","CD3:CD28 (1:1)","CD3:CD28 (1:3)","CD3/CD28 bead","Untreated"], "paddingInner": 0, "paddingOuter": 0}, "axis": null},
                                 "yOffset": {"field": "sg", "type": "nominal", "scale": {"domain": ["Control sgRNA", "PDCD1 sgRNA"], "paddingInner": 0.08, "paddingOuter": 0.51}}
                               }},
                              {"data": {"name": "bars"}, "transform": [{"filter": "datum.panel === 'b' && datum.sg === 'none'"}],
                               "mark": {"type": "rule", "color": "#333", "strokeWidth": 1.3},
                               "encoding": {
                                 "x": {"field": "lo", "type": "quantitative", "scale": {"domain": [0, 4], "nice": false}, "axis": {"values": [0, 1, 2, 3], "format": "d", "grid": true, "gridColor": "#cccccc", "tickSize": 7, "tickColor": "#555", "domain": false, "labelFontSize": 18, "labelPadding": 3, "title": "Fold expansion", "titleFontSize": 16, "titlePadding": 9}}, "x2": {"field": "hi"},
                                 "y": {"field": "cat", "type": "nominal", "scale": {"domain": ["VSVG","CD3","CD28","CD3:CD28 (3:1)","CD3:CD28 (1:1)","CD3:CD28 (1:3)","CD3/CD28 bead","Untreated"], "paddingInner": 0, "paddingOuter": 0}, "axis": null}
                               }},
                              {"data": {"name": "reps"}, "transform": [{"filter": "datum.panel === 'b' && datum.sg !== 'none'"}],
                               "mark": {"type": "point", "filled": true, "size": 70, "strokeWidth": 1.2, "opacity": 1},
                               "encoding": {
                                 "x": {"field": "v", "type": "quantitative", "scale": {"domain": [0, 4], "nice": false}, "axis": {"values": [0, 1, 2, 3], "format": "d", "grid": true, "gridColor": "#cccccc", "tickSize": 7, "tickColor": "#555", "domain": false, "labelFontSize": 18, "labelPadding": 3, "title": "Fold expansion", "titleFontSize": 16, "titlePadding": 9}},
                                 "y": {"field": "cat", "type": "nominal", "scale": {"domain": ["VSVG","CD3","CD28","CD3:CD28 (3:1)","CD3:CD28 (1:1)","CD3:CD28 (1:3)","CD3/CD28 bead","Untreated"], "paddingInner": 0, "paddingOuter": 0}, "axis": null},
                                 "yOffset": {"field": "sg", "type": "nominal", "scale": {"domain": ["Control sgRNA", "PDCD1 sgRNA"], "paddingInner": 0.08, "paddingOuter": 0.51}},
                                 "fill": {"field": "sg", "type": "nominal", "scale": {"domain": ["Control sgRNA", "PDCD1 sgRNA"], "range": ["#ffffff", "#000000"]}, "legend": {"title": null, "orient": "top", "direction": "vertical", "padding": 0, "offset": 7, "labelFontSize": 16, "symbolSize": 70, "symbolStrokeWidth": 1.2, "rowPadding": 1, "labelOffset": 9}},
                                 "stroke": {"field": "sg", "type": "nominal", "scale": {"domain": ["Control sgRNA", "PDCD1 sgRNA"], "range": ["#a8a8a8", "#000000"]}, "legend": {"title": null, "orient": "top", "direction": "vertical", "padding": 0, "offset": 7, "labelFontSize": 16, "symbolSize": 70, "symbolStrokeWidth": 1.2, "rowPadding": 1, "labelOffset": 9}}
                               }},
                              {"data": {"name": "reps"}, "transform": [{"filter": "datum.panel === 'b' && datum.sg === 'none'"}],
                               "mark": {"type": "point", "filled": true, "size": 70, "strokeWidth": 1.4, "opacity": 1, "fill": "#ffffff"},
                               "encoding": {
                                 "x": {"field": "v", "type": "quantitative", "scale": {"domain": [0, 4], "nice": false}, "axis": {"values": [0, 1, 2, 3], "format": "d", "grid": true, "gridColor": "#cccccc", "tickSize": 7, "tickColor": "#555", "domain": false, "labelFontSize": 18, "labelPadding": 3, "title": "Fold expansion", "titleFontSize": 16, "titlePadding": 9}},
                                 "y": {"field": "cat", "type": "nominal", "scale": {"domain": ["VSVG","CD3","CD28","CD3:CD28 (3:1)","CD3:CD28 (1:1)","CD3:CD28 (1:3)","CD3/CD28 bead","Untreated"], "paddingInner": 0, "paddingOuter": 0}, "axis": null},
                                 "stroke": {"condition": {"test": "datum.cat === 'Untreated'", "value": "#1aa39c"}, "value": "#8e3b9d"}
                               }}
                            ]
                          }
                        ],
                        "spacing": -4,
                        "resolve": {"scale": {"color": "independent", "fill": "independent", "stroke": "independent", "shape": "independent"}, "legend": {"color": "independent", "fill": "independent", "stroke": "independent", "shape": "independent"}}
                      },
                      {
                        "width": 213, "height": 259,
                        "view": {"stroke": "#707070", "strokeWidth": 1.2},
                        "layer": [
                          {"data": {"name": "bars"}, "transform": [{"filter": "datum.panel === 'c' && datum.sg !== 'none'"}],
                           "mark": {"type": "bar"},
                           "encoding": {
                             "x": {"field": "mean", "type": "quantitative", "scale": {"domain": [0, 40], "nice": false}, "axis": {"values": [0, 10, 20, 30, 40], "grid": true, "gridColor": "#cccccc", "tickSize": 7, "tickColor": "#555", "domain": false, "labelFontSize": 18, "labelPadding": 3, "title": "% modified reads", "titleFontSize": 16, "titlePadding": 9}},
                             "y": {"field": "cat", "type": "nominal", "scale": {"domain": ["VSVG","CD3","CD28","CD3:CD28 (3:1)","CD3:CD28 (1:1)","CD3:CD28 (1:3)","CD3/CD28 bead","Untreated"], "paddingInner": 0, "paddingOuter": 0}, "axis": null},
                             "yOffset": {"field": "sg", "type": "nominal", "scale": {"domain": ["Control sgRNA", "PDCD1 sgRNA"], "paddingInner": 0.08, "paddingOuter": 0.51}},
                             "color": {"field": "cat", "type": "nominal", "scale": {"domain": ["VSVG","CD3","CD28","CD3:CD28 (3:1)","CD3:CD28 (1:1)","CD3:CD28 (1:3)","CD3/CD28 bead","Untreated"], "range": ["#f5a3a8","#a3daf0","#fdd3ab","#cbe3a9","#a9c194","#f0d6d6","#c99bcb","#95d6d2"]}, "legend": null}
                           }},
                          {"data": {"name": "bars"}, "transform": [{"filter": "datum.panel === 'c' && datum.sg !== 'none'"}],
                           "mark": {"type": "rule", "color": "#333", "strokeWidth": 1.3},
                           "encoding": {
                             "x": {"field": "lo", "type": "quantitative", "scale": {"domain": [0, 40], "nice": false}, "axis": {"values": [0, 10, 20, 30, 40], "grid": true, "gridColor": "#cccccc", "tickSize": 7, "tickColor": "#555", "domain": false, "labelFontSize": 18, "labelPadding": 3, "title": "% modified reads", "titleFontSize": 16, "titlePadding": 9}}, "x2": {"field": "hi"},
                             "y": {"field": "cat", "type": "nominal", "scale": {"domain": ["VSVG","CD3","CD28","CD3:CD28 (3:1)","CD3:CD28 (1:1)","CD3:CD28 (1:3)","CD3/CD28 bead","Untreated"], "paddingInner": 0, "paddingOuter": 0}, "axis": null},
                             "yOffset": {"field": "sg", "type": "nominal", "scale": {"domain": ["Control sgRNA", "PDCD1 sgRNA"], "paddingInner": 0.08, "paddingOuter": 0.51}}
                           }},
                          {"data": {"name": "reps"}, "transform": [{"filter": "datum.panel === 'c' && datum.sg !== 'none'"}],
                           "mark": {"type": "point", "filled": true, "size": 70, "strokeWidth": 1.2, "opacity": 1},
                           "encoding": {
                             "x": {"field": "v", "type": "quantitative", "scale": {"domain": [0, 40], "nice": false}, "axis": {"values": [0, 10, 20, 30, 40], "grid": true, "gridColor": "#cccccc", "tickSize": 7, "tickColor": "#555", "domain": false, "labelFontSize": 18, "labelPadding": 3, "title": "% modified reads", "titleFontSize": 16, "titlePadding": 9}},
                             "y": {"field": "cat", "type": "nominal", "scale": {"domain": ["VSVG","CD3","CD28","CD3:CD28 (3:1)","CD3:CD28 (1:1)","CD3:CD28 (1:3)","CD3/CD28 bead","Untreated"], "paddingInner": 0, "paddingOuter": 0}, "axis": null},
                             "yOffset": {"field": "sg", "type": "nominal", "scale": {"domain": ["Control sgRNA", "PDCD1 sgRNA"], "paddingInner": 0.08, "paddingOuter": 0.51}},
                             "fill": {"field": "sg", "type": "nominal", "scale": {"domain": ["Control sgRNA", "PDCD1 sgRNA"], "range": ["#ffffff", "#000000"]}, "legend": {"title": null, "orient": "top", "direction": "vertical", "padding": 0, "offset": 7, "labelFontSize": 16, "symbolSize": 70, "symbolStrokeWidth": 1.2, "rowPadding": 1, "labelOffset": 9}},
                             "stroke": {"field": "sg", "type": "nominal", "scale": {"domain": ["Control sgRNA", "PDCD1 sgRNA"], "range": ["#a8a8a8", "#000000"]}, "legend": {"title": null, "orient": "top", "direction": "vertical", "padding": 0, "offset": 7, "labelFontSize": 16, "symbolSize": 70, "symbolStrokeWidth": 1.2, "rowPadding": 1, "labelOffset": 9}}
                           }},
                          {"data": {"name": "reps"}, "transform": [{"filter": "datum.panel === 'c' && datum.sg === 'none'"}],
                           "mark": {"type": "point", "filled": true, "size": 70, "strokeWidth": 1.4, "opacity": 1, "fill": "#ffffff"},
                           "encoding": {
                             "x": {"field": "v", "type": "quantitative", "scale": {"domain": [0, 40], "nice": false}, "axis": {"values": [0, 10, 20, 30, 40], "grid": true, "gridColor": "#cccccc", "tickSize": 7, "tickColor": "#555", "domain": false, "labelFontSize": 18, "labelPadding": 3, "title": "% modified reads", "titleFontSize": 16, "titlePadding": 9}},
                             "y": {"field": "cat", "type": "nominal", "scale": {"domain": ["VSVG","CD3","CD28","CD3:CD28 (3:1)","CD3:CD28 (1:1)","CD3:CD28 (1:3)","CD3/CD28 bead","Untreated"], "paddingInner": 0, "paddingOuter": 0}, "axis": null},
                             "stroke": {"condition": {"test": "datum.cat === 'Untreated'", "value": "#1aa39c"}, "value": "#8e3b9d"}
                           }}
                        ]
                      }
                    ],
                    "spacing": 0,
                    "resolve": {"scale": {"color": "independent", "fill": "independent", "stroke": "independent", "shape": "independent"}, "legend": {"color": "independent", "fill": "independent", "stroke": "independent", "shape": "independent"}}
                  }
                ],
                "spacing": 0,
                "resolve": {"scale": {"color": "independent", "fill": "independent", "stroke": "independent", "shape": "independent"}, "legend": {"color": "independent", "fill": "independent", "stroke": "independent", "shape": "independent"}}
              }
            ],
            "spacing": 0,
            "resolve": {"scale": {"color": "independent", "fill": "independent", "stroke": "independent", "shape": "independent"}, "legend": {"color": "independent", "fill": "independent", "stroke": "independent", "shape": "independent"}}
          }
        ],
        "spacing": 0,
        "resolve": {"scale": {"color": "independent", "fill": "independent", "stroke": "independent", "shape": "independent"}, "legend": {"color": "independent", "fill": "independent", "stroke": "independent", "shape": "independent"}}
      }
    ],
    "spacing": 6,
    "resolve": {"scale": {"color": "independent", "fill": "independent", "stroke": "independent", "shape": "independent"}, "legend": {"color": "independent", "fill": "independent", "stroke": "independent", "shape": "independent"}}
  },
  {
    "hconcat": [
      {
        "width": 163, "height": 154,
        "title": {"text": "d", "anchor": "start", "fontSize": 17, "fontWeight": "bold", "baseline": "alphabetic", "offset": 10, "dx": 5},
        "layer": [
          {"data": {"name": "dose"}, "transform": [{"filter": {"field": "series", "oneOf": ["Control scFv", "CD3 scFv-2", "VSVG"]}}],
           "mark": {"type": "line", "strokeWidth": 1.6},
           "encoding": {
             "x": {"field": "x", "type": "quantitative", "scale": {"domain": [-7, 109], "nice": false, "zero": false}, "axis": {"values": [0, 25, 50, 75, 100], "title": "Cas9-EDV (\u03bcl)", "labelFontSize": 19, "titleFontSize": 19, "tickSize": 8, "tickWidth": 1.5, "domainWidth": 1.5, "labelPadding": 4, "titlePadding": 8, "grid": false}},
             "y": {"field": "y", "type": "quantitative", "scale": {"domain": [0, 100], "nice": false}, "axis": {"values": [0, 20, 40, 60, 80, 100], "title": "% cells B2M-", "labelFontSize": 19, "titleFontSize": 19, "tickSize": 5, "tickWidth": 1.5, "domainWidth": 1.5, "labelPadding": 1, "titlePadding": -2, "grid": false}},
             "stroke": {"field": "series", "type": "nominal", "scale": {"domain": ["CD3 scFv-1", "CD3 scFv-2", "CD3 scFv-3", "Control scFv", "VSVG"], "range": ["#b7a1dc", "#3c6cc4", "#1a8580", "#9a9a9a", "#000000"]}, "legend": {"title": null, "orient": "right", "offset": 2, "padding": 9, "labelFontSize": 15, "symbolSize": 90, "rowPadding": 6.5, "labelOffset": 12, "symbolStrokeWidth": 1.5}}
           }},
          {"data": {"name": "dose"}, "transform": [{"filter": {"field": "series", "oneOf": ["CD3 scFv-1", "CD3 scFv-3"]}}, {"regression": "y", "on": "x", "groupby": ["series"], "method": "poly", "order": 2, "extent": [0, 100]}],
           "mark": {"type": "line", "strokeWidth": 1.6},
           "encoding": {
             "x": {"field": "x", "type": "quantitative", "scale": {"domain": [-7, 109], "nice": false, "zero": false}, "axis": {"values": [0, 25, 50, 75, 100], "title": "Cas9-EDV (\u03bcl)", "labelFontSize": 19, "titleFontSize": 19, "tickSize": 8, "tickWidth": 1.5, "domainWidth": 1.5, "labelPadding": 4, "titlePadding": 8, "grid": false}},
             "y": {"field": "y", "type": "quantitative", "scale": {"domain": [0, 100], "nice": false}, "axis": {"values": [0, 20, 40, 60, 80, 100], "title": "% cells B2M-", "labelFontSize": 19, "titleFontSize": 19, "tickSize": 5, "tickWidth": 1.5, "domainWidth": 1.5, "labelPadding": 1, "titlePadding": -2, "grid": false}},
             "stroke": {"field": "series", "type": "nominal", "scale": {"domain": ["CD3 scFv-1", "CD3 scFv-2", "CD3 scFv-3", "Control scFv", "VSVG"], "range": ["#b7a1dc", "#3c6cc4", "#1a8580", "#9a9a9a", "#000000"]}, "legend": {"title": null, "orient": "right", "offset": 2, "padding": 9, "labelFontSize": 15, "symbolSize": 90, "rowPadding": 6.5, "labelOffset": 12, "symbolStrokeWidth": 1.5}}
           }},
          {"data": {"name": "dose"},
           "mark": {"type": "point", "filled": true, "size": 85, "strokeWidth": 1.3, "opacity": 1},
           "encoding": {
             "x": {"field": "x", "type": "quantitative", "scale": {"domain": [-7, 109], "nice": false, "zero": false}, "axis": {"values": [0, 25, 50, 75, 100], "title": "Cas9-EDV (\u03bcl)", "labelFontSize": 19, "titleFontSize": 19, "tickSize": 8, "tickWidth": 1.5, "domainWidth": 1.5, "labelPadding": 4, "titlePadding": 8, "grid": false}},
             "y": {"field": "y", "type": "quantitative", "scale": {"domain": [0, 100], "nice": false}, "axis": {"values": [0, 20, 40, 60, 80, 100], "title": "% cells B2M-", "labelFontSize": 19, "titleFontSize": 19, "tickSize": 5, "tickWidth": 1.5, "domainWidth": 1.5, "labelPadding": 1, "titlePadding": -2, "grid": false}},
             "stroke": {"field": "series", "type": "nominal", "scale": {"domain": ["CD3 scFv-1", "CD3 scFv-2", "CD3 scFv-3", "Control scFv", "VSVG"], "range": ["#b7a1dc", "#3c6cc4", "#1a8580", "#9a9a9a", "#000000"]}, "legend": {"title": null, "orient": "right", "offset": 2, "padding": 9, "labelFontSize": 15, "symbolSize": 90, "rowPadding": 6.5, "labelOffset": 12, "symbolStrokeWidth": 1.5}},
             "fill": {"field": "series", "type": "nominal", "scale": {"domain": ["CD3 scFv-1", "CD3 scFv-2", "CD3 scFv-3", "Control scFv", "VSVG"], "range": ["#3b2566", "#3c6cc4", "#1a8580", "#9a9a9a", "#000000"]}, "legend": {"title": null, "orient": "right", "offset": 2, "padding": 9, "labelFontSize": 15, "symbolSize": 90, "rowPadding": 6.5, "labelOffset": 12, "symbolStrokeWidth": 1.5}},
             "shape": {"field": "series", "type": "nominal", "scale": {"domain": ["CD3 scFv-1", "CD3 scFv-2", "CD3 scFv-3", "Control scFv", "VSVG"], "range": ["circle", "square", "triangle-up", "diamond", "circle"]}, "legend": {"title": null, "orient": "right", "offset": 2, "padding": 9, "labelFontSize": 15, "symbolSize": 90, "rowPadding": 6.5, "labelOffset": 12, "symbolStrokeWidth": 1.5}}
           }}
        ]
      },
      {
        "width": 490, "height": 154,
        "title": {"text": "e", "anchor": "start", "fontSize": 17, "fontWeight": "bold", "baseline": "alphabetic", "offset": 10, "dx": 0},
        "layer": [
          {"data": {"name": "ebars"},
           "mark": {"type": "bar", "stroke": "#3b1a38", "strokeWidth": 0.8},
           "encoding": {
             "x": {"field": "grp", "type": "nominal", "sort": ["VSV-G","CD3 scFv","CD4 scFv","CD28 scFv","CD3 + CD4 scFvs","CD3 + control scFvs","CD4 + control scFvs","Control scFv","No tx"], "scale": {"domain": ["VSV-G","CD3 scFv","CD4 scFv","CD28 scFv","CD3 + CD4 scFvs","CD3 + control scFvs","CD4 + control scFvs","Control scFv","No tx"], "paddingInner": 0.23, "paddingOuter": 0.18}, "axis": {"title": null, "labelAngle": -45, "labelFontSize": 17, "tickSize": 8, "tickWidth": 1.5, "domainWidth": 1.5, "labelPadding": 3}},
             "xOffset": {"field": "cell", "type": "nominal", "scale": {"domain": ["CD4+ T cells", "CD8+ T cells"], "paddingInner": 0.06}},
             "y": {"field": "mean", "type": "quantitative", "scale": {"domain": [0, 30], "nice": false}, "axis": {"values": [0, 10, 20, 30], "title": "% cells B2M-", "labelFontSize": 19, "titleFontSize": 19, "tickSize": 6, "tickWidth": 1.5, "domainWidth": 1.5, "labelPadding": 4, "titlePadding": 3, "grid": false}},
             "color": {"condition": {"test": "datum.cell === 'CD4+ T cells'", "value": "#a4449d"}, "value": "#c28fc3"}
           }},
          {"data": {"name": "ebars"},
           "mark": {"type": "rule", "color": "#222", "strokeWidth": 1.2},
           "encoding": {
             "x": {"field": "grp", "type": "nominal", "sort": ["VSV-G","CD3 scFv","CD4 scFv","CD28 scFv","CD3 + CD4 scFvs","CD3 + control scFvs","CD4 + control scFvs","Control scFv","No tx"], "scale": {"domain": ["VSV-G","CD3 scFv","CD4 scFv","CD28 scFv","CD3 + CD4 scFvs","CD3 + control scFvs","CD4 + control scFvs","Control scFv","No tx"], "paddingInner": 0.23, "paddingOuter": 0.18}, "axis": {"title": null, "labelAngle": -45, "labelFontSize": 17, "tickSize": 8, "tickWidth": 1.5, "domainWidth": 1.5, "labelPadding": 3}},
             "xOffset": {"field": "cell", "type": "nominal", "scale": {"domain": ["CD4+ T cells", "CD8+ T cells"], "paddingInner": 0.06}},
             "y": {"field": "lo", "type": "quantitative", "scale": {"domain": [0, 30], "nice": false}, "axis": {"values": [0, 10, 20, 30], "title": "% cells B2M-", "labelFontSize": 19, "titleFontSize": 19, "tickSize": 6, "tickWidth": 1.5, "domainWidth": 1.5, "labelPadding": 4, "titlePadding": 3, "grid": false}},
             "y2": {"field": "hi"}
           }},
          {"data": {"name": "ereps"},
           "mark": {"type": "point", "filled": true, "size": 60, "strokeWidth": 1, "opacity": 1},
           "encoding": {
             "x": {"field": "grp", "type": "nominal", "sort": ["VSV-G","CD3 scFv","CD4 scFv","CD28 scFv","CD3 + CD4 scFvs","CD3 + control scFvs","CD4 + control scFvs","Control scFv","No tx"], "scale": {"domain": ["VSV-G","CD3 scFv","CD4 scFv","CD28 scFv","CD3 + CD4 scFvs","CD3 + control scFvs","CD4 + control scFvs","Control scFv","No tx"], "paddingInner": 0.23, "paddingOuter": 0.18}, "axis": {"title": null, "labelAngle": -45, "labelFontSize": 17, "tickSize": 8, "tickWidth": 1.5, "domainWidth": 1.5, "labelPadding": 3}},
             "xOffset": {"field": "sub", "type": "nominal", "scale": {"domain": ["CD4 1", "CD4 2", "CD4 3", "CD8 1", "CD8 2", "CD8 3"], "paddingInner": 0, "paddingOuter": 0}},
             "y": {"field": "v", "type": "quantitative", "scale": {"domain": [0, 30], "nice": false}, "axis": {"values": [0, 10, 20, 30], "title": "% cells B2M-", "labelFontSize": 19, "titleFontSize": 19, "tickSize": 6, "tickWidth": 1.5, "domainWidth": 1.5, "labelPadding": 4, "titlePadding": 3, "grid": false}},
             "shape": {"field": "cell", "type": "nominal", "scale": {"domain": ["CD4+ T cells", "CD8+ T cells"], "range": ["triangle-up", "triangle-down"]}, "legend": {"title": null, "orient": "none", "legendX": 313, "legendY": 9, "direction": "vertical", "labelFontSize": 15, "symbolSize": 80, "rowPadding": 8, "labelOffset": 20}},
             "fill": {"field": "cell", "type": "nominal", "scale": {"domain": ["CD4+ T cells", "CD8+ T cells"], "range": ["#8e2d88", "#dcaedb"]}, "legend": {"title": null, "orient": "none", "legendX": 313, "legendY": 9, "direction": "vertical", "labelFontSize": 15, "symbolSize": 80, "rowPadding": 8, "labelOffset": 20}},
             "stroke": {"field": "cell", "type": "nominal", "scale": {"domain": ["CD4+ T cells", "CD8+ T cells"], "range": ["#3a0f36", "#7a557a"]}, "legend": {"title": null, "orient": "none", "legendX": 313, "legendY": 9, "direction": "vertical", "labelFontSize": 15, "symbolSize": 80, "rowPadding": 8, "labelOffset": 20}}
           }}
        ],
        "resolve": {"scale": {"xOffset": "independent"}}
      }
    ],
    "spacing": 27,
    "resolve": {"scale": {"color": "independent", "fill": "independent", "stroke": "independent", "shape": "independent"}, "legend": {"color": "independent", "fill": "independent", "stroke": "independent", "shape": "independent"}}
  }
],
"spacing": 24,
"resolve": {"scale": {"color": "independent", "fill": "independent", "stroke": "independent", "shape": "independent"}, "legend": {"color": "independent", "fill": "independent", "stroke": "independent", "shape": "independent"}}
}
